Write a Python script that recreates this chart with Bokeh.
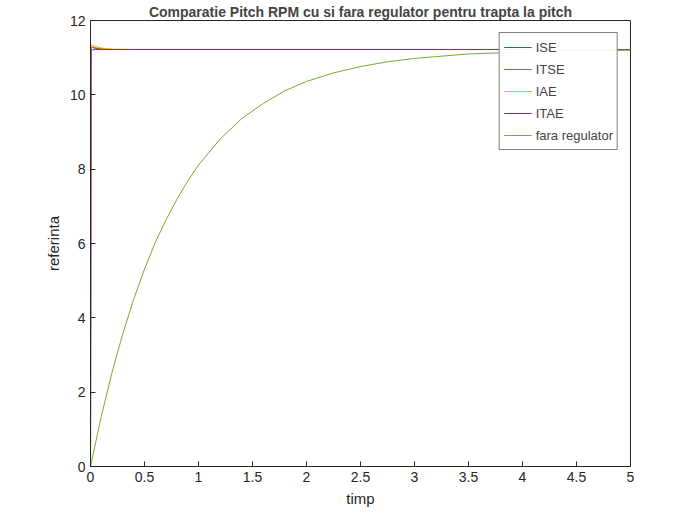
from bokeh.plotting import figure
from bokeh.models import Range1d, Legend, LegendItem, FixedTicker
from bokeh.embed import file_html
from bokeh.resources import INLINE

t_ctrl = [0, 0.005, 0.02, 0.05, 0.1, 0.2, 0.4, 5]
ise = [0, 11.28, 11.27, 11.25, 11.23, 11.22, 11.22, 11.22]
itse = [0, 11.3, 11.28, 11.26, 11.24, 11.22, 11.22, 11.22]
iae = [0, 11.36, 11.33, 11.3, 11.26, 11.23, 11.22, 11.22]
itae = [0, 11.2, 11.21, 11.22, 11.22, 11.22, 11.22, 11.22]

t_open = [0, 0.1, 0.2, 0.3, 0.4, 0.5, 0.6, 0.7, 0.8, 0.9, 1.0, 1.2, 1.4, 1.6,
          1.8, 2.0, 2.25, 2.5, 2.75, 3.0, 3.5, 4.0, 4.5, 5.0]
fara = [0, 1.35, 2.54, 3.58, 4.50, 5.31, 6.03, 6.64, 7.19, 7.68, 8.11, 8.81,
        9.36, 9.77, 10.11, 10.36, 10.59, 10.76, 10.89, 10.98, 11.10, 11.15,
        11.19, 11.20]

p = figure(width=684, height=509, output_backend="svg", toolbar_location=None,
           x_range=Range1d(0, 5), y_range=Range1d(0, 12),
           title="Comparatie Pitch RPM cu si fara regulator pentru trapta la pitch",
           min_border_left=90, min_border_right=54, min_border_top=4, min_border_bottom=10)
p.title.align = "center"
p.title.text_font = "Arial"
p.title.text_font_size = "14px"
p.title.text_font_style = "bold"
p.title.standoff = 2
p.xgrid.grid_line_color = None
p.ygrid.grid_line_color = None
p.outline_line_color = "#262626"
p.background_fill_color = "white"

r1 = p.line(t_ctrl, ise, color="#0072BD", line_width=1)
r2 = p.line(t_ctrl, itse, color="#D95319", line_width=1)
r3 = p.line(t_ctrl, iae, color="#EDB120", line_width=1)
r4 = p.line(t_ctrl, itae, color="#7E2F8E", line_width=1)
r5 = p.line(t_open, fara, color="#77AC30", line_width=1)

p.xaxis.ticker = FixedTicker(ticks=[0, 0.5, 1, 1.5, 2, 2.5, 3, 3.5, 4, 4.5, 5])
p.yaxis.ticker = FixedTicker(ticks=[0, 2, 4, 6, 8, 10, 12])
for ax in p.axis:
    ax.major_tick_in = 5
    ax.major_tick_out = 0
    ax.minor_tick_line_color = None
    ax.axis_line_color = "#262626"
    ax.major_tick_line_color = "#262626"
    ax.major_label_text_font = "Arial"
    ax.major_label_text_font_size = "14px"
    ax.major_label_text_color = "#262626"
    ax.axis_label_text_font = "Arial"
    ax.axis_label_text_font_size = "15px"
    ax.axis_label_text_font_style = "normal"
    ax.axis_label_text_color = "#262626"
p.xaxis.axis_label = "timp"
p.yaxis.axis_label = "referinta"

legend = Legend(items=[LegendItem(label="ISE", renderers=[r1]),
                       LegendItem(label="ITSE", renderers=[r2]),
                       LegendItem(label="IAE", renderers=[r3]),
                       LegendItem(label="ITAE", renderers=[r4]),
                       LegendItem(label="fara regulator", renderers=[r5])],
                location="top_right", border_line_color="black",
                label_text_font="Arial", label_text_font_size="13px",
                glyph_width=28, label_height=16, spacing=2, padding=4,
                margin=12, label_standoff=4)
p.add_layout(legend)

open("out.html", "w").write(file_html(p, INLINE))
